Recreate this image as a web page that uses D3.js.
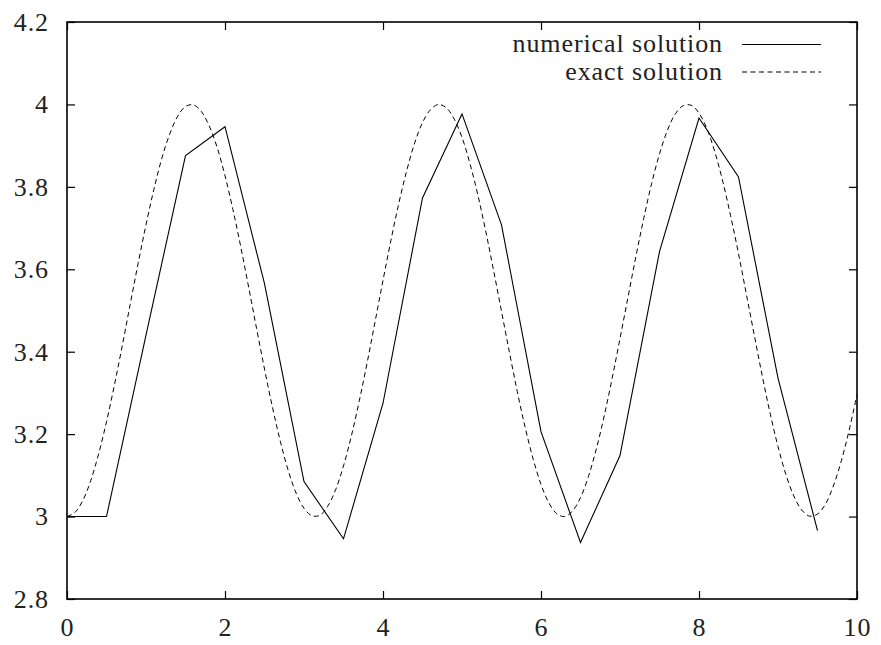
<!DOCTYPE html>
<html>
<head>
<meta charset="utf-8">
<script src="https://cdn.jsdelivr.net/npm/d3@7"></script>
<style>
  html, body { margin: 0; padding: 0; background: #fff; }
  svg { display: block; }
</style>
</head>
<body>
<svg id="chart" width="881" height="645"></svg>
<script>
// ---- data ----
const numX = [0, 0.5, 1, 1.5, 2, 2.5, 3, 3.5, 4, 4.5, 5, 5.5, 6, 6.5, 7, 7.5, 8, 8.5, 9, 9.5];
const numY = [3.0, 3.0, 3.44, 3.876, 3.946, 3.565, 3.085, 2.946, 3.275, 3.773, 3.977, 3.708, 3.206, 2.937, 3.148, 3.643, 3.967, 3.824, 3.336, 2.966];

const exactX = [0,0.1,0.2,0.3,0.4,0.5,0.6,0.7,0.8,0.9,1,1.1,1.2,1.3,1.4,1.5,1.6,1.7,1.8,1.9,2,2.1,2.2,2.3,2.4,2.5,2.6,2.7,2.8,2.9,3,3.1,3.2,3.3,3.4,3.5,3.6,3.7,3.8,3.9,4,4.1,4.2,4.3,4.4,4.5,4.6,4.7,4.8,4.9,5,5.1,5.2,5.3,5.4,5.5,5.6,5.7,5.8,5.9,6,6.1,6.2,6.3,6.4,6.5,6.6,6.7,6.8,6.9,7,7.1,7.2,7.3,7.4,7.5,7.6,7.7,7.8,7.9,8,8.1,8.2,8.3,8.4,8.5,8.6,8.7,8.8,8.9,9,9.1,9.2,9.3,9.4,9.5,9.6,9.7,9.8,9.9,10];
const exactY = [3.000,3.010,3.039,3.087,3.152,3.230,3.319,3.415,3.515,3.614,3.708,3.794,3.869,3.928,3.971,3.995,3.999,3.983,3.948,3.896,3.827,3.745,3.654,3.556,3.456,3.358,3.266,3.183,3.112,3.057,3.020,3.002,3.003,3.025,3.065,3.123,3.196,3.281,3.374,3.473,3.573,3.670,3.760,3.839,3.906,3.956,3.987,4.000,3.992,3.965,3.920,3.857,3.781,3.693,3.597,3.498,3.399,3.303,3.216,3.140,3.078,3.033,3.007,3.000,3.014,3.046,3.097,3.164,3.244,3.335,3.432,3.531,3.630,3.723,3.808,3.880,3.937,3.977,3.997,3.998,3.979,3.941,3.885,3.814,3.730,3.638,3.539,3.440,3.342,3.251,3.170,3.102,3.050,3.016,3.001,3.006,3.030,3.074,3.134,3.209,3.296];

const xTicks = [0, 2, 4, 6, 8, 10];
const yTicks = [2.8, 3.0, 3.2, 3.4, 3.6, 3.8, 4.0, 4.2];
const seriesNames = ["numerical solution", "exact solution"];

// ---- layout ----
const FONT = "font-family:'Liberation Serif', monospace; font-size:26px; letter-spacing:0.9px";
const svg = d3.select("#chart");
const L = 67, R = 857, T = 22, B = 599;
const x = d3.scaleLinear().domain([0, 10]).range([L, R]);
const y = d3.scaleLinear().domain([2.8, 4.2]).range([B, T]);
const fmt = d => (Math.round(d * 10) / 10).toString();

const tickLen = 8;
const axisG = svg.append("g");
const xb = d3.axisBottom(x).tickValues(xTicks).tickSize(-tickLen).tickPadding(19).tickFormat(fmt);
const xt = d3.axisTop(x).tickValues(xTicks).tickSize(-tickLen).tickFormat("");
const yl = d3.axisLeft(y).tickValues(yTicks).tickSize(-tickLen).tickPadding(18).tickFormat(fmt);
const yr = d3.axisRight(y).tickValues(yTicks).tickSize(-tickLen).tickFormat("");

function style(g) {
  g.attr("font-family", null).attr("font-size", null);
  g.select(".domain").remove();
  g.selectAll(".tick line").attr("stroke", "#000").attr("stroke-width", 1.2);
  g.selectAll(".tick text").attr("fill", "#222").attr("style", FONT);
}
axisG.append("g").attr("transform", `translate(0,${B})`).call(xb).call(style);
axisG.append("g").attr("transform", `translate(0,${T})`).call(xt).call(style);
axisG.append("g").attr("transform", `translate(${L},0)`).call(yl).call(style);
axisG.append("g").attr("transform", `translate(${R},0)`).call(yr).call(style);

// frame
svg.append("rect").attr("x", L).attr("y", T).attr("width", R - L).attr("height", B - T)
  .attr("fill", "none").attr("stroke", "#000").attr("stroke-width", 1.6);

// lines
const numLine = d3.line().x((d, i) => x(numX[i])).y(d => y(d));
const exLine = d3.line().x((d, i) => x(exactX[i])).y(d => y(d)).curve(d3.curveCatmullRom);

svg.append("path").datum(exactY).attr("d", exLine)
  .attr("fill", "none").attr("stroke", "#000").attr("stroke-width", 1)
  .attr("stroke-dasharray", "5,3.5");
svg.append("path").datum(numY).attr("d", numLine)
  .attr("fill", "none").attr("stroke", "#000").attr("stroke-width", 1.1);

// legend
const leg = svg.append("g");
const legRows = [{ name: seriesNames[0], dash: null, yc: 44.5 }, { name: seriesNames[1], dash: "5,3.5", yc: 72 }];
legRows.forEach(r => {
  leg.append("text").attr("x", 723).attr("y", r.yc).attr("dy", "0.3em")
    .attr("text-anchor", "end").attr("fill", "#222").attr("style", FONT).text(r.name);
  leg.append("line").attr("x1", 742).attr("x2", 821).attr("y1", r.yc).attr("y2", r.yc)
    .attr("stroke", "#000").attr("stroke-width", 1.1)
    .attr("stroke-dasharray", r.dash);
});
</script>
</body>
</html>
